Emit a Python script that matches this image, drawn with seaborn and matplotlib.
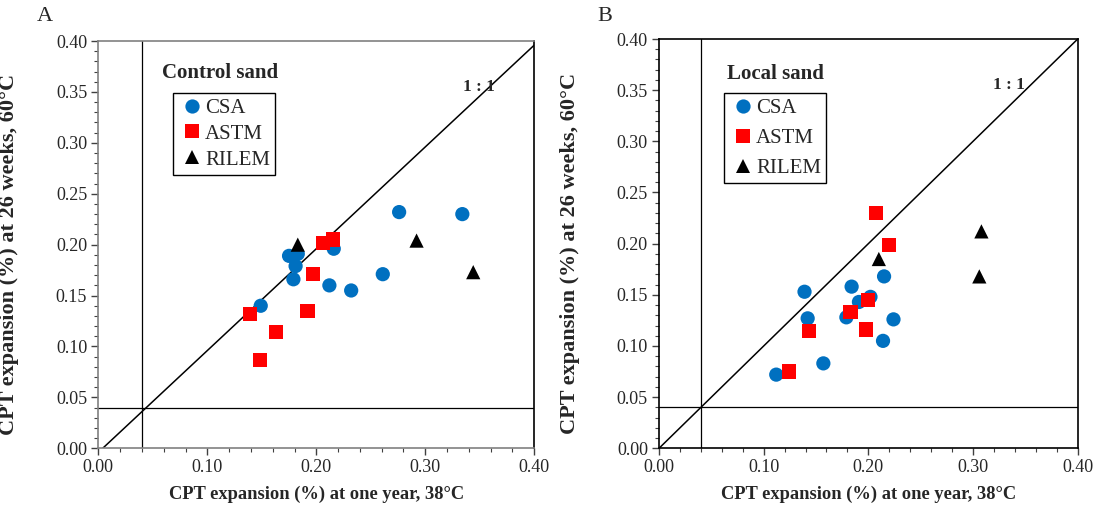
import pandas as pd
import matplotlib.pyplot as plt
import seaborn as sns
from matplotlib.ticker import MultipleLocator, FormatStrFormatter

sns.set_style('white')
plt.rcParams['font.family'] = ['Liberation Serif', 'DejaVu Serif']

# Panel A - control sand
a_csa_x = [0.276, 0.334, 0.216, 0.175, 0.183, 0.181, 0.179, 0.212, 0.232, 0.261, 0.149]
a_csa_y = [0.232, 0.230, 0.196, 0.189, 0.191, 0.179, 0.166, 0.160, 0.155, 0.171, 0.140]
a_astm_x = [0.206, 0.215, 0.197, 0.192, 0.139, 0.163, 0.148]
a_astm_y = [0.202, 0.205, 0.171, 0.135, 0.132, 0.114, 0.087]
a_rilem_x = [0.183, 0.292, 0.344]
a_rilem_y = [0.200, 0.204, 0.173]

# Panel B - local sand
b_csa_x = [0.139, 0.142, 0.184, 0.202, 0.191, 0.179, 0.215, 0.224, 0.214, 0.157, 0.112]
b_csa_y = [0.153, 0.127, 0.158, 0.148, 0.143, 0.128, 0.168, 0.126, 0.105, 0.083, 0.072]
b_astm_x = [0.207, 0.220, 0.200, 0.183, 0.198, 0.143, 0.124]
b_astm_y = [0.230, 0.199, 0.145, 0.133, 0.116, 0.115, 0.075]
b_rilem_x = [0.210, 0.308, 0.306]
b_rilem_y = [0.185, 0.212, 0.168]

methods = ['CSA', 'ASTM', 'RILEM']
colors = {'CSA': '#0070C0', 'ASTM': '#FF0000', 'RILEM': '#000000'}
markers = {'CSA': 'o', 'ASTM': 's', 'RILEM': '^'}


def make_df(csa_x, csa_y, astm_x, astm_y, rilem_x, rilem_y):
    parts = []
    for m, xs, ys in [('CSA', csa_x, csa_y), ('ASTM', astm_x, astm_y), ('RILEM', rilem_x, rilem_y)]:
        parts.append(pd.DataFrame({'x': xs, 'y': ys, 'Method': m}))
    return pd.concat(parts, ignore_index=True)


df_a = make_df(a_csa_x, a_csa_y, a_astm_x, a_astm_y, a_rilem_x, a_rilem_y)
df_b = make_df(b_csa_x, b_csa_y, b_astm_x, b_astm_y, b_rilem_x, b_rilem_y)

fig = plt.figure(figsize=(11.05, 5.16), dpi=100)
ax_a = fig.add_axes([0.089, 0.1312, 0.3945, 0.7893])
ax_b = fig.add_axes([0.5964, 0.1312, 0.3789, 0.7932])


def draw_panel(ax, df, title, line_start, leg_anchor, title_pos, one_x, spacing):
    ax.plot([line_start, 0.40], [0, 0.40 - line_start], color='black', lw=1.1, zorder=1)
    ax.axvline(0.04, color='black', lw=0.9, zorder=1)
    ax.axhline(0.04, color='black', lw=0.9, zorder=1)
    sns.scatterplot(data=df, x='x', y='y', hue='Method', style='Method',
                    hue_order=methods, style_order=methods,
                    palette=colors, markers=markers, s=105, linewidth=0,
                    ax=ax, zorder=3)
    ax.set_xlim(0, 0.40)
    ax.set_ylim(0, 0.40)
    ax.xaxis.set_major_locator(MultipleLocator(0.10))
    ax.xaxis.set_minor_locator(MultipleLocator(0.02))
    ax.yaxis.set_major_locator(MultipleLocator(0.05))
    ax.yaxis.set_minor_locator(MultipleLocator(0.01))
    ax.xaxis.set_major_formatter(FormatStrFormatter('%.2f'))
    ax.yaxis.set_major_formatter(FormatStrFormatter('%.2f'))
    ax.tick_params(which='both', direction='out', labelsize=13, color='#404040')
    ax.tick_params(which='major', length=5, width=1, pad=3, bottom=True, left=True)
    ax.tick_params(which='minor', length=3, width=0.8, bottom=True, left=True)
    for sp in ax.spines.values():
        sp.set_color('black')
        sp.set_linewidth(1.2)
    ax.set_xlabel('CPT expansion (%) at one year, 38°C', fontsize=13.3, fontweight='bold')
    ax.set_ylabel('CPT expansion (%) at 26 weeks, 60°C', fontsize=16, fontweight='bold')
    ax.xaxis.set_label_coords(0.5, -0.092)
    # label sits about 79 px left of the axis line
    ax.yaxis.set_label_coords(-79 / (ax.get_position().width * 1105), 0.475)
    ax.text(one_x, 0.355, '1 : 1', fontsize=12.5, fontweight='bold', ha='left', va='center')
    ax.text(title_pos[0], title_pos[1], title, transform=ax.transAxes,
            fontsize=15, fontweight='bold', ha='left', va='center')
    handles, labels = ax.get_legend_handles_labels()
    ax.legend(handles, labels, loc='upper left', bbox_to_anchor=leg_anchor,
              frameon=True, fancybox=False, edgecolor='black', framealpha=1,
              fontsize=15, handletextpad=0.0, borderpad=0.25, labelspacing=spacing,
              handlelength=1.3, borderaxespad=0)


draw_panel(ax_a, df_a, 'Control sand', 0.004, (0.171, 0.872), (0.146, 0.921), 0.335, 0.3)
draw_panel(ax_b, df_b, 'Local sand', 0.0, (0.155, 0.868), (0.162, 0.915), 0.319, 0.5)
ax_a.spines['top'].set_color('#808080')
ax_a.spines['left'].set_color('#808080')
ax_a.spines['bottom'].set_color('#808080')

fig.text(0.033, 0.968, 'A', fontsize=16, ha='left', va='center')
fig.text(0.541, 0.968, 'B', fontsize=16, ha='left', va='center')

plt.savefig('out.png', dpi=100)
